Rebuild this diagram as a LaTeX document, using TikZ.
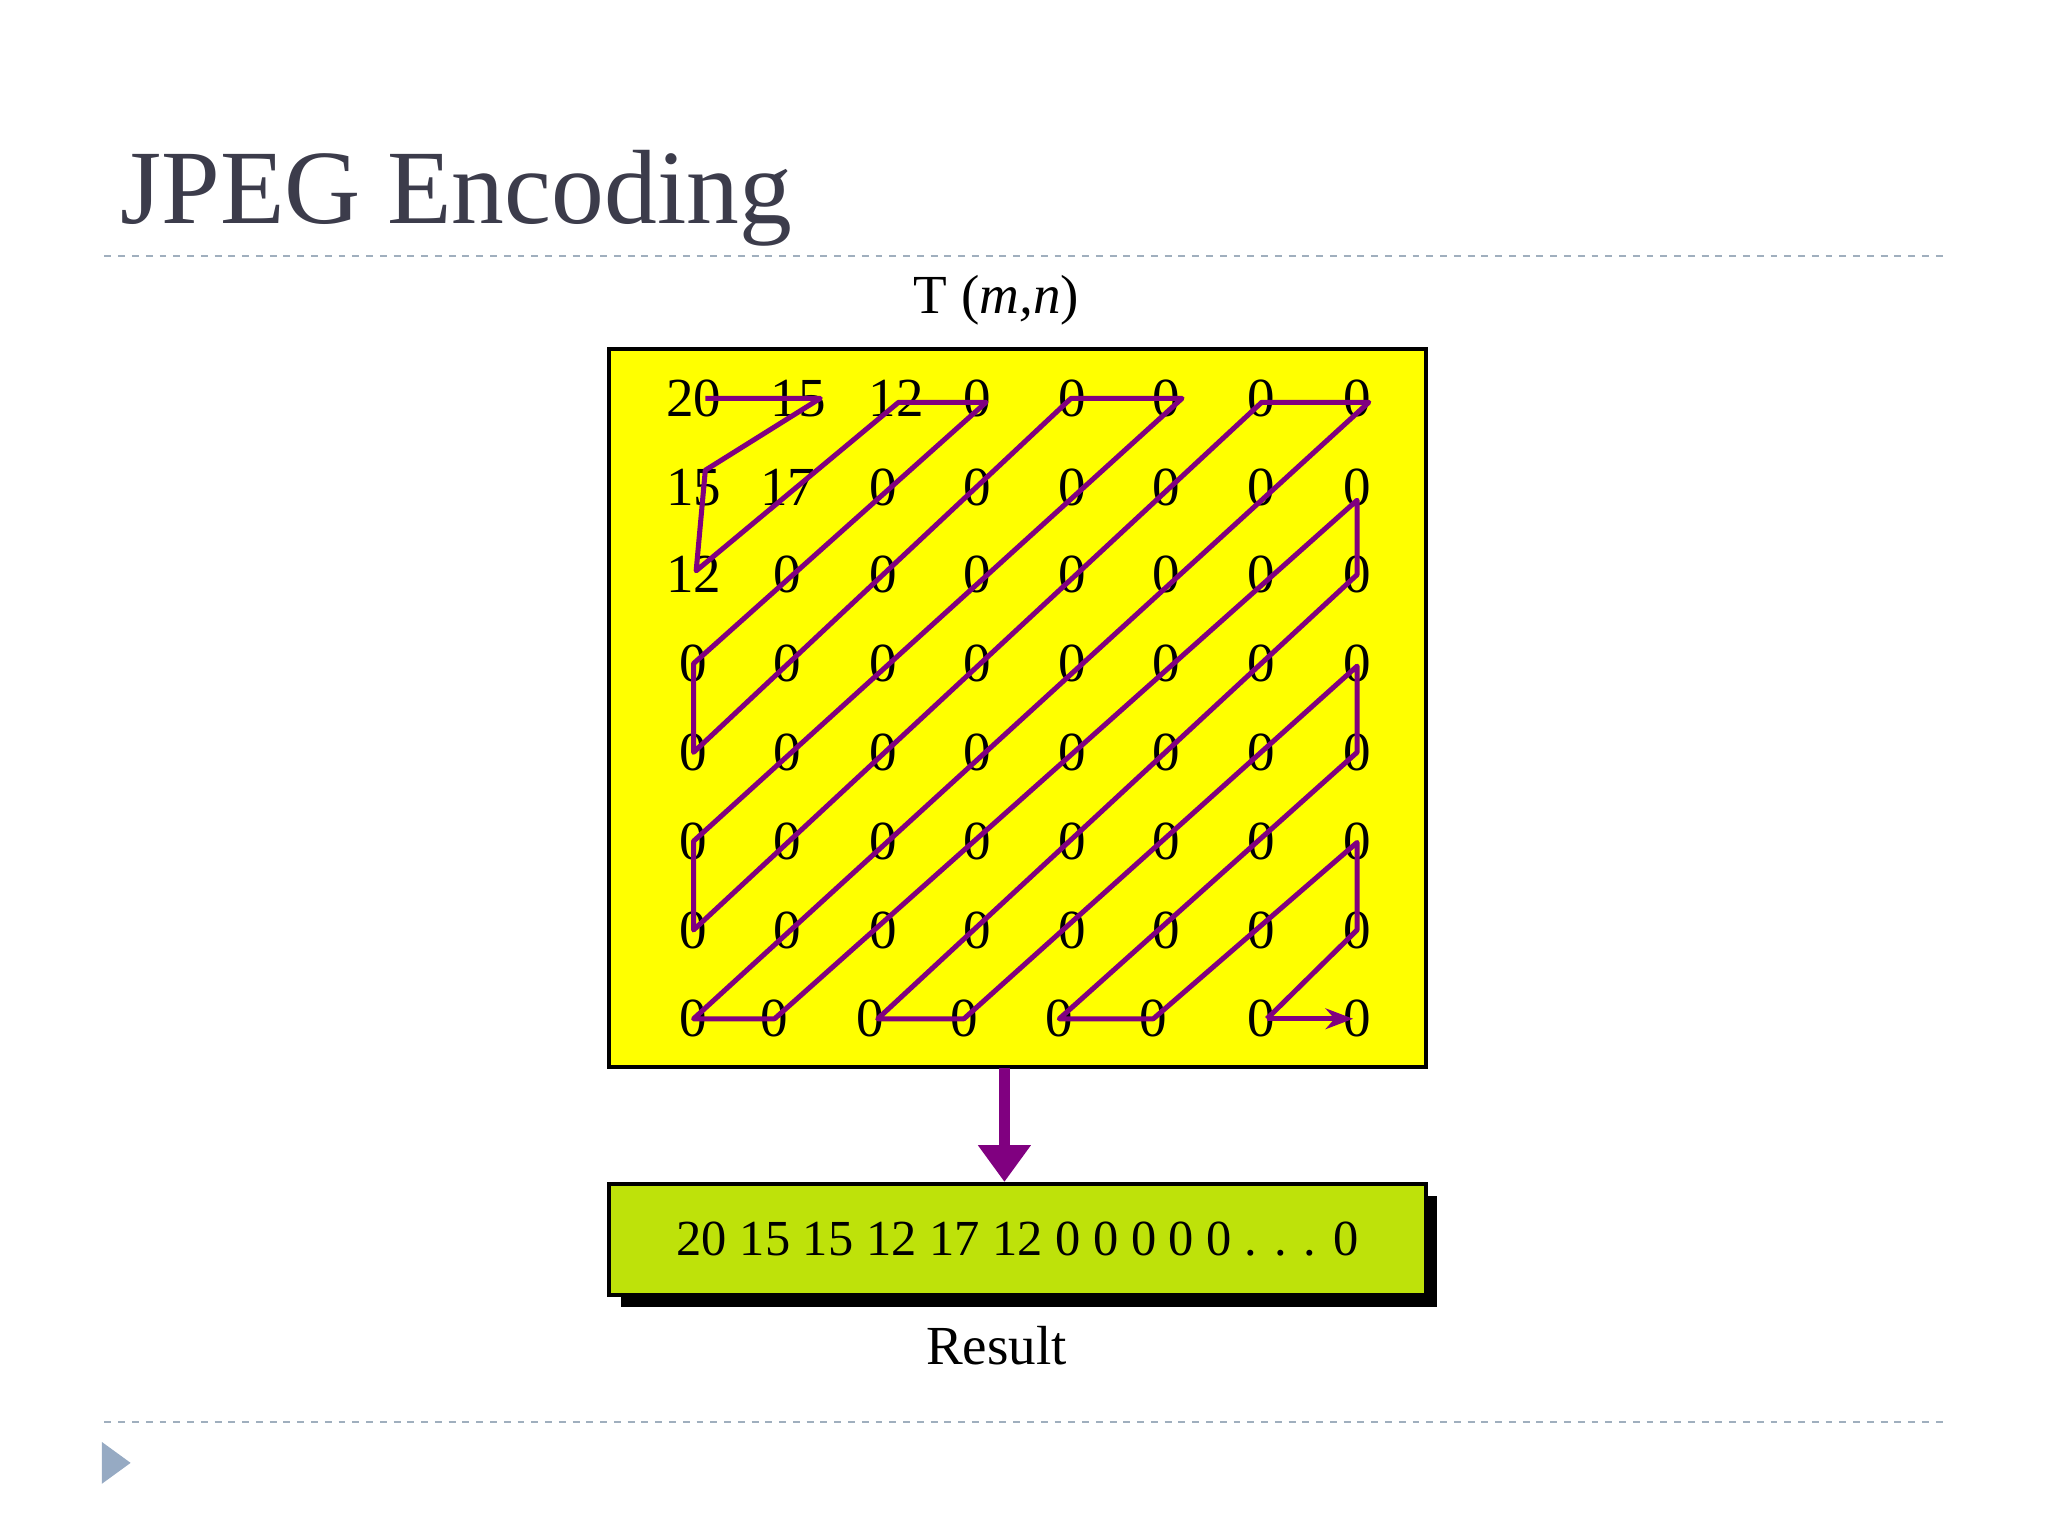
\documentclass[tikz,border=0pt]{standalone}
\usepackage{fontspec}
\setmainfont{Liberation Serif}
\usetikzlibrary{arrows.meta}
\begin{document}
\begin{tikzpicture}[x=0.02cm,y=-0.02cm,
  num/.style={font=\fontsize{24}{24}\selectfont,inner sep=0pt},
  zz/.style={draw={rgb,255:red,128;green,0;blue,128},line width=2.2pt,line join=round},
  sepline/.style={draw={rgb,255:red,160;green,175;blue,190},dashed,line width=0.8pt}]
\useasboundingbox (0,0) rectangle (1568,1176);
\node[anchor=west,font=\fontsize{46}{46}\selectfont,text={rgb,255:red,60;green,60;blue,75},inner sep=0pt] (title) at (92,152) {JPEG Encoding};
\draw[sepline] (80,196) -- (1490,196);
\draw[sepline] (80,1089) -- (1490,1089);
\fill[fill={rgb,255:red,150;green,170;blue,195}] (78,1104) -- (100,1120) -- (78,1136) -- cycle;
\node[num] (T) at (763,230) {T (\textit{m,n})};
\node[draw,line width=1.8pt,fill={rgb,255:red,255;green,255;blue,0},minimum width=625*0.02cm,minimum height=550*0.02cm,inner sep=0pt] (grid) at (779,542) {};
\foreach \x [count=\c] in {748,821,893,966,1039}{\node[num] (n1\c) at (\x,305) {0};}
\foreach \x [count=\c] in {676,748,821,893,966,1039}{\node[num] (n2\c) at (\x,373) {0};}
\foreach \x [count=\c] in {603,676,748,821,893,966,1039}{\node[num] (n3\c) at (\x,440) {0};}
\foreach \y [count=\r from 4] in {508,576,644,712}{
  \foreach \x [count=\c] in {531,603,676,748,821,893,966,1039}{
    \node[num] (n\r\c) at (\x,\y) {0};
  }
}
\foreach \x [count=\c] in {531,593,666,738,811,883,966,1039}{\node[num] (n8\c) at (\x,780) {0};}
\node[num] (a20) at (531,305) {20};
\node[num] (a15) at (611,305) {15};
\node[num] (a12) at (686,305) {12};
\node[num] (b15) at (531,373) {15};
\node[num] (b17) at (603,373) {17};
\node[num] (c12) at (531,440) {12};
\draw[zz] (540,305) -- (628,305) -- (540,360) -- (533,437) -- (688,308) -- (755,308) -- (531,508) -- (531,576)
 -- (820,305) -- (905,305) -- (531,644) -- (531,712) -- (966,308) -- (1048,308) -- (531,780) -- (593,780)
 -- (1039,383) -- (1039,440) -- (672,780) -- (738,780) -- (1039,510) -- (1039,576) -- (811,780) -- (883,780)
 -- (1039,645) -- (1039,712) -- (970,780);
\draw[zz,-{Stealth[length=12pt]}] (970,780) -- (1036,780);
\coordinate (gb) at (769,818);
\node[fill=black,minimum width=625*0.02cm,minimum height=85*0.02cm,inner sep=0pt] (shadow) at (788,958) {};
\node[draw,line width=1.8pt,fill={rgb,255:red,190;green,226;blue,10},minimum width=625*0.02cm,minimum height=85*0.02cm,inner sep=0pt,font=\fontsize{22}{22}\selectfont] (res) at (779,949) {20 15 15 12 17 12 0 0 0 0 0 . . . 0};
\draw[draw={rgb,255:red,128;green,0;blue,128},line width=5pt,-{Triangle[length=16pt,width=22pt]}] (gb) -- (res.north -| gb);
\node[num] (rl) at (763,1030) {Result};
\end{tikzpicture}
\end{document}
